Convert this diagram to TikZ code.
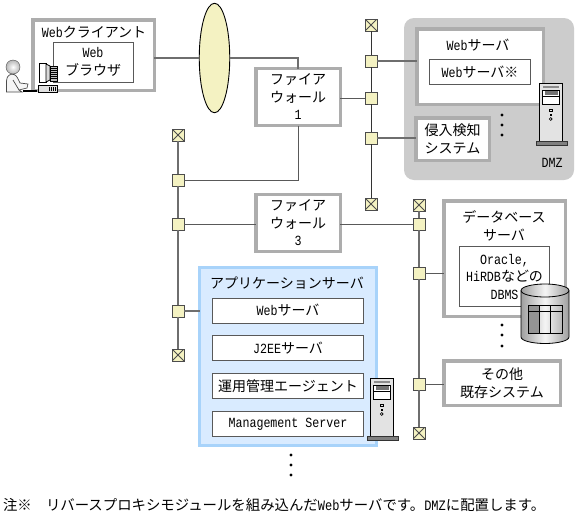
\documentclass[tikz,border=0pt]{standalone}
\usepackage{fontspec}
\setmainfont{Noto Sans CJK JP}
\newfontfamily\latinmono[FakeStretch=0.833]{Liberation Mono}
\newcommand{\lt}[1]{{\latinmono #1}}
\usetikzlibrary{calc,shapes.geometric}
\definecolor{frameg}{HTML}{ADADAD}
\definecolor{lineg}{HTML}{6E6E6E}
\definecolor{cream}{HTML}{F4F2C2}
\definecolor{dmzg}{HTML}{CCCCCC}
\definecolor{appfill}{HTML}{D9EBFF}
\definecolor{appline}{HTML}{A8D3FA}
\tikzset{
  x=1pt,y=-1pt,
  every node/.style={inner sep=0pt,outer sep=0pt,font=\fontsize{14pt}{17.5pt}\selectfont},
  tbox/.style={draw=frameg,line width=3.5pt,fill=white,align=center},
  ibox/.style={draw=black!65,line width=1pt,fill=white,align=center},
  jn/.style={draw=black!70,line width=1pt,fill=cream,minimum size=12pt},
  term/.style={jn,path picture={\draw[black!70,line width=.8pt]
     (path picture bounding box.north west)--(path picture bounding box.south east)
     (path picture bounding box.north east)--(path picture bounding box.south west);}},
  bus/.style={draw=lineg,line width=1.4pt},
  wire/.style={draw=black!65,line width=1pt},
  label/.style={align=center},
  dotn/.style={circle,fill=black,minimum size=3.4pt},
  footn/.style={anchor=west,font=\fontsize{14.4pt}{17.5pt}\selectfont},
}
\begin{document}
\begin{tikzpicture}
\useasboundingbox (0,0) rectangle (576,517);
\fill[white] (0,0) rectangle (576,517);

% DMZ
\node[fill=dmzg,rounded corners=10pt,minimum width=170pt,minimum height=162pt] (dmz) at (489,99) {};

% buses
\node[term] (ta1) at (371,25) {};
\node[term] (ta2) at (371,204) {};
\node[jn] (ja1) at (371,61) {};
\node[jn] (ja2) at (371,98) {};
\node[jn] (ja3) at (371,138) {};
\node[term] (tb1) at (178,135) {};
\node[term] (tb2) at (178,355) {};
\node[jn] (jb1) at (178,180) {};
\node[jn] (jb2) at (178,224) {};
\node[jn] (jb3) at (178,311) {};
\node[term] (tc1) at (419,205) {};
\node[term] (tc2) at (419,433) {};
\node[jn] (jc1) at (419,224) {};
\node[jn] (jc2) at (419,273) {};
\node[jn] (jc3) at (419,384) {};

% boxes
\node[tbox,minimum width=121.5pt,minimum height=70.5pt] (client) at (93.5,55) {};
\node[ibox,minimum width=80pt,minimum height=40pt] (browser) at (93.5,62.5) {};
\node[label] at (94,32) {\lt{Web}クライアント};
\node[label] at (93,62) {\lt{Web}\\ブラウザ};
\node[draw=black,line width=.9pt,fill=cream,ellipse,minimum width=30.5pt,minimum height=109.5pt] (cloud) at (214.5,58) {};
\node[tbox,minimum width=84.5pt,minimum height=57pt] (fw1) at (298,97) {ファイア\\ウォール\\\lt{1}};
\node[tbox,minimum width=84.5pt,minimum height=57pt] (fw3) at (298,223) {ファイア\\ウォール\\\lt{3}};
\node[tbox,minimum width=126.5pt,minimum height=75.5pt] (websv) at (480,66.5) {};
\node[label] at (478,45) {\lt{Web}サーバ};
\node[ibox,minimum width=101pt,minimum height=25pt] (websvin) at (480,72) {\lt{Web}サーバ※};
\node[tbox,minimum width=73.5pt,minimum height=42.5pt] (ids) at (452.5,139) {侵入検知\\システム};
\node[dotn] (d1) at (502,115) {};
\node[dotn] (d2) at (502,125) {};
\node[dotn] (d3) at (502,135) {};
\node[label] (dmzl) at (552,163) {\lt{DMZ}};

\node[tbox,minimum width=121.5pt,minimum height=115.5pt] (db) at (504.5,258.5) {};
\node[label] at (504,226) {データベース\\サーバ};
\node[ibox,minimum width=90pt,minimum height=60pt] (dbin) at (504.5,276.5) {\lt{Oracle,}\\\lt{HiRDB}などの\\\lt{DBMS}};
\node[tbox,minimum width=116.5pt,minimum height=44.5pt] (other) at (502,383) {その他\\既存システム};
\node[dotn] (d4) at (502,325) {};
\node[dotn] (d5) at (502,335) {};
\node[dotn] (d6) at (502,346) {};

\node[draw=appline,fill=appfill,line width=3.2pt,minimum width=176.5pt,minimum height=178pt] (app) at (288,356.5) {};
\node[label] at (287,283) {アプリケーションサーバ};
\node[ibox,minimum width=151pt,minimum height=25pt] (a1) at (288,310.5) {\lt{Web}サーバ};
\node[ibox,minimum width=151pt,minimum height=25pt] (a2) at (288,348) {\lt{J2EE}サーバ};
\node[ibox,minimum width=151pt,minimum height=25pt] (a3) at (288,386) {運用管理エージェント};
\node[ibox,minimum width=151pt,minimum height=25pt] (a4) at (288,424) {\lt{Management Server}};
\node[dotn] (d7) at (291,455) {};
\node[dotn] (d8) at (291,465) {};
\node[dotn] (d9) at (291,475) {};

% connectors
\draw[bus] (client.east |- cloud.west) -- (cloud.west);
\draw[bus] (cloud.east) -| (fw1.north);
\draw[wire] (fw1.south) |- (jb1.east);
\draw[wire] (fw1.east |- ja2) -- (ja2.west);
\draw[bus] (ja1.east) -- (websv.west |- ja1);
\draw[bus] (ja3.east) -- (ids.west |- ja3);
\draw[wire] (jb2.east) -- (fw3.west |- jb2);
\draw[wire] (fw3.east |- jc1) -- (jc1.west);
\draw[wire] (jc2.east) -- (db.west |- jc2);
\draw[wire] (jc3.east) -- (other.west |- jc3);
\draw[bus] (jb3.east) -- (app.west |- jb3);
\draw[wire,black!80] (ta1.south) -- (ja1.north) (ja1.south) -- (ja2.north) (ja2.south) -- (ja3.north) (ja3.south) -- (ta2.north);
\draw[bus] (tb1.south) -- (jb1.north) (jb1.south) -- (jb2.north) (jb2.south) -- (jb3.north) (jb3.south) -- (tb2.north);
\draw[bus] (tc1.south) -- (jc1.north) (jc1.south) -- (jc2.north) (jc2.south) -- (jc3.north) (jc3.south) -- (tc2.north);

% server towers
\foreach \ox/\oy in {539.5/83,370.5/378}{
\begin{scope}[shift={(\ox,\oy)}]
  \draw[black,line width=.9pt,fill=black!11] (0,0) rectangle (22.5,58);
  \fill[black!45] (3,3) rectangle (19.5,5);
  \draw[black,line width=.8pt,fill=white] (3,7) rectangle (20,21);
  \fill[black!55] (5,8) rectangle (18,12);
  \draw[black,line width=.7pt] (3,13.5) -- (20,13.5);
  \draw[black,line width=.7pt,fill=black!10] (10,26) rectangle (12.5,28.5);
  \fill[black] (10,31) rectangle (12.5,33);
  \draw[black,line width=.6pt] (11.2,34.6) -- (12.6,36) -- (11.2,37.4) -- (9.8,36) -- cycle;
  \draw[black!80,line width=.8pt,fill=black!50] (-3.5,58) rectangle (27.5,62.5);
\end{scope}}

% database cylinder
\shade[left color=black!38,right color=black!38,middle color=black!4]
  (521,290.5) -- (521,337) arc[start angle=180,end angle=0,x radius=24,y radius=6.5] -- (569,290.5) arc[start angle=0,end angle=-180,x radius=24,y radius=6.5] -- cycle;
\draw[black,line width=.8pt]
  (521,290.5) -- (521,337) arc[start angle=180,end angle=0,x radius=24,y radius=6.5] -- (569,290.5);
\draw[black,line width=.8pt] (545,290.5) ellipse [x radius=24,y radius=6.5];
\fill[black!42] (528,305) rectangle (539,333);
\draw[black,line width=.8pt] (528,305) rectangle (562,333);
\draw[black,line width=.8pt] (528,311.5) -- (562,311.5) (539,305) -- (539,333) (550,305) -- (550,333);

% person
\draw[black!70,line width=.7pt,fill=black!4] (6.5,92) -- (6.5,81) .. controls (6.5,75) and (11,73.5) .. (14,74.5) .. controls (17,75.5) and (18,79) .. (20,83) -- (28,84) -- (27,88) -- (19,90) -- (22,92) -- cycle;
\shade[inner color=white,outer color=black!28,draw=black!70] (13,67) circle [radius=7];
\draw[black!70,line width=.7pt] (13,80) -- (19,90);

% computer
\fill[black] (23,90) rectangle (37,92);
\draw[black,line width=.8pt,fill=white] (39.5,63) -- (46,63) -- (46,82) -- (39.5,82) -- cycle;
\draw[black,line width=.8pt,fill=black!15] (46,64) -- (50,66) -- (50,80) -- (46,82) -- cycle;
\draw[black,line width=.8pt,fill=black!25] (50,66) rectangle (57.5,81);
\foreach \yy in {68,70,72,74,76,78}{\draw[black,line width=.5pt] (50,\yy) -- (57.5,\yy);}
\draw[black,line width=.8pt,fill=black!12] (38.5,85) rectangle (57.5,92);
\foreach \xx in {49,51,53,55}{\draw[black,line width=.6pt] (\xx,87) -- (\xx,91);}

% footnote
\node[footn] (fnm) at (3,505) {注※};
\node[footn] (fnt) at (46,505) {リバースプロキシモジュールを組み込んだ\lt{Web}サーバです。\lt{DMZ}に配置します。};
\end{tikzpicture}
\end{document}
